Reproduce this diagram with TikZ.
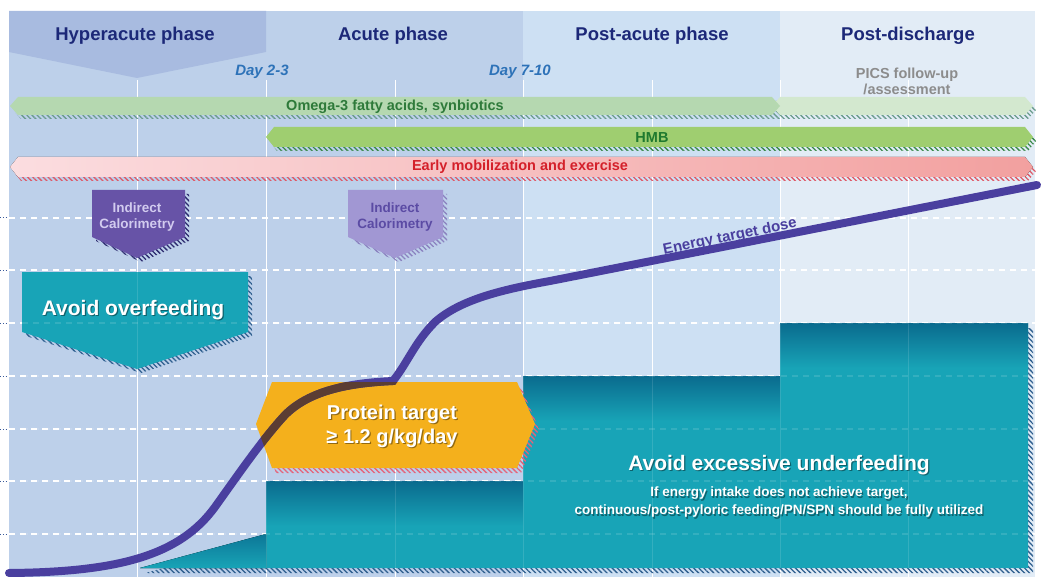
\documentclass[tikz,border=0pt]{standalone}
\usepackage{fontspec}
\setmainfont{Liberation Sans}
\usetikzlibrary{calc,patterns.meta}
\definecolor{panela}{HTML}{BDD0EA}
\definecolor{heada}{HTML}{A8BBE0}
\definecolor{panelb}{HTML}{CDE0F3}
\definecolor{panelc}{HTML}{E2ECF6}
\definecolor{headnavy}{HTML}{1C2878}
\definecolor{dayblue}{HTML}{2D72B8}
\definecolor{picsgray}{HTML}{8C8C8C}
\definecolor{tickblue}{HTML}{3A5A9A}
\definecolor{omegafill}{HTML}{B5D8B0}
\definecolor{omegapale}{HTML}{D3E8CF}
\definecolor{omegatext}{HTML}{2E7A3A}
\definecolor{omegashade}{HTML}{6A9C8C}
\definecolor{hmbfill}{HTML}{9FCE70}
\definecolor{hmbtext}{HTML}{1F7A2F}
\definecolor{hmbshade}{HTML}{3B8A4A}
\definecolor{mobleft}{HTML}{FBDDE0}
\definecolor{mobright}{HTML}{F2A09F}
\definecolor{mobtext}{HTML}{D4202A}
\definecolor{mobshade}{HTML}{DF5A68}
\definecolor{calodark}{HTML}{6753A7}
\definecolor{calotext}{HTML}{D2CBEF}
\definecolor{calolight}{HTML}{A197D3}
\definecolor{calolighttext}{HTML}{5B4BA4}
\definecolor{caloshade}{HTML}{2C2A6E}
\definecolor{teal}{HTML}{18A4B7}
\definecolor{tealdark}{HTML}{0A6B8E}
\definecolor{tealshade}{HTML}{2F5F8F}
\definecolor{protein}{HTML}{F4B01C}
\definecolor{proteinshade}{HTML}{E5637A}
\definecolor{energy}{HTML}{4A3F9F}
\definecolor{energybrown}{HTML}{5B3D33}

\newcommand{\bandpath}[4]{({#1},{(#3+#4)/2}) -- ({#1+8},#3) -- ({#2-8},#3) -- ({#2},{(#3+#4)/2}) -- ({#2-8},#4) -- ({#1+8},#4) -- cycle}
\newcommand{\glowlabel}[4]{%
  \node[#3,text=black,opacity=.4] at ($(#2)+(1.2,1.6)$) {#4};
  \node[#3,text=white] (#1) at (#2) {#4};}

\tikzset{
  hatch/.style={pattern={Lines[angle=-45,distance=3.6pt,line width=1.3pt]},pattern color=#1},
  phase/.style={font=\fontsize{18.5}{20}\selectfont\bfseries,text=headnavy},
  daymark/.style={font=\fontsize{15}{16}\selectfont\bfseries\itshape,text=dayblue},
  bandtext/.style={font=\fontsize{14.5}{16}\selectfont\bfseries},
  calotxt/.style={font=\fontsize{13.5}{16}\selectfont\bfseries,align=center},
  gridline/.style={white,line width=1pt},
  griddash/.style={white,line width=1.2pt,dash pattern=on 6pt off 5pt},
  bigwhite/.style={font=\fontsize{21}{24}\selectfont\bfseries,align=center},
  energyline/.style={line width=8pt,line cap=round}
}

\begin{document}
\begin{tikzpicture}[x=1pt,y=-1pt]
  \useasboundingbox (0,0) rectangle (1043,577);
  \fill[white] (0,0) rectangle (1043,577);
  % columns
  \fill[panela] (9,11) rectangle (523,577);
  \fill[panelb] (523,11) rectangle (780,577);
  \fill[panelc] (780,11) rectangle (1035,577);
  \fill[heada] (9,11) -- (266,11) -- (266,52) -- (137,78) -- (9,52) -- cycle;
  \foreach \x in {137,266,395,523,652,780,908}
    \draw[gridline] (\x,80) -- (\x,577);
  \foreach \y in {218,270,323,376,429,481,534} {
    \draw[griddash] (9,\y) -- (1035,\y);
    \draw[tickblue,line width=1pt,dash pattern=on 1.2pt off 1.6pt] (0,\y) -- (8,\y);
  }
  \node[phase] (hyper) at (135,35.5) {Hyperacute phase};
  \node[phase] (acute) at (393,35.5) {Acute phase};
  \node[phase] (postacute) at (652,35.5) {Post-acute phase};
  \node[phase] (postdis) at (908,35.5) {Post-discharge};
  \node[daymark] (day23) at (262,71.5) {Day 2-3};
  \node[daymark] (day710) at (520,71.5) {Day 7-10};
  \node[font=\fontsize{14.5}{16}\selectfont\bfseries,text=picsgray,align=center] (pics) at (907,81) {PICS follow-up\\/assessment};

  % bands
  \fill[hatch=omegashade,shift={(3,4)}] \bandpath{10}{1033}{97}{115};
  \fill[omegapale] \bandpath{772}{1033}{97}{115};
  \fill[omegafill] \bandpath{10}{780}{97}{115};
  \node[bandtext,text=omegatext] (omega) at (395,106.5) {Omega-3 fatty acids, synbiotics};
  \fill[hatch=hmbshade,shift={(3,4)}] \bandpath{266}{1033}{127}{147};
  \fill[hmbfill] \bandpath{266}{1033}{127}{147};
  \node[bandtext,text=hmbtext] (hmb) at (652,138) {HMB};
  \fill[hatch=mobshade,shift={(3,4)}] \bandpath{10}{1033}{157}{177};
  \fill[left color=mobleft,right color=mobright] \bandpath{10}{1033}{157}{177};
  \node[bandtext,text=mobtext] (mob) at (520,166.5) {Early mobilization and exercise};

  % indirect calorimetry
  \fill[hatch=caloshade,shift={(4,4)}] (92,190) -- (185,190) -- (185,237) -- (137,258) -- (92,237) -- cycle;
  \fill[calodark] (92,190) -- (185,190) -- (185,237) -- (137,258) -- (92,237) -- cycle;
  \node[calotxt,text=calotext] (calo1) at (137,217) {Indirect\\Calorimetry};
  \fill[hatch=calolight!80!caloshade,shift={(4,4)}] (348,190) -- (443,190) -- (443,237) -- (395,258) -- (348,237) -- cycle;
  \fill[calolight] (348,190) -- (443,190) -- (443,237) -- (395,258) -- (348,237) -- cycle;
  \node[calotxt,text=calolighttext] (calo2) at (395,217) {Indirect\\Calorimetry};

  % overfeeding
  \fill[hatch=tealshade,shift={(4,4)}] (22,272) -- (248,272) -- (248,332) -- (137,369) -- (22,332) -- cycle;
  \fill[teal] (22,272) -- (248,272) -- (248,332) -- (137,369) -- (22,332) -- cycle;

  % underfeeding steps
  \fill[hatch=tealshade,shift={(5,5)}] (140,568) -- (266,534) -- (266,481) -- (523,481) -- (523,376) -- (780,376) -- (780,323) -- (1028,323) -- (1028,568) -- cycle;
  \fill[teal] (140,568) -- (266,534) -- (266,481) -- (523,481) -- (523,376) -- (780,376) -- (780,323) -- (1028,323) -- (1028,568) -- cycle;
  \fill[top color=tealdark!80!teal,bottom color=teal] (140,568) -- (266,534) -- (266,568) -- cycle;
  \fill[top color=tealdark,bottom color=teal] (266,481) rectangle (523,526);
  \fill[top color=tealdark,bottom color=teal] (523,376) rectangle (780,421);
  \fill[top color=tealdark,bottom color=teal] (780,323) rectangle (1028,368);
  \begin{scope}[opacity=.12]
    \foreach \x in {137,266,395,523,652,780,908}
      \draw[gridline] (\x,270) -- (\x,568);
    \foreach \y in {323,376,429,481,534}
      \draw[griddash] (22,\y) -- (1028,\y);
  \end{scope}

  % energy curve and protein target
  \fill[hatch=proteinshade,shift={(4,5)}] (256,424) -- (272,382) -- (517,382) -- (535,424) -- (517,468) -- (272,468) -- cycle;
  \fill[protein] (256,424) -- (272,382) -- (517,382) -- (535,424) -- (517,468) -- (272,468) -- cycle;
  \draw[energyline,energy] (9,573) .. controls (120,572) and (180,555) .. (215,507)
    .. controls (240,472) and (262,440) .. (285,415)
    .. controls (310,390) and (350,383) .. (393,381)
    .. controls (408,362) and (415,342) .. (435,322)
    .. controls (460,300) and (500,290) .. (550,281) -- (1037,185);
  \begin{scope}
    \clip (256,424) -- (272,382) -- (517,382) -- (535,424) -- (517,468) -- (272,468) -- cycle;
    \draw[energyline,energybrown] (9,573) .. controls (120,572) and (180,555) .. (215,507)
      .. controls (240,472) and (262,440) .. (285,415)
      .. controls (310,390) and (350,383) .. (393,381)
      .. controls (408,362) and (415,342) .. (435,322);
  \end{scope}
  \node[font=\fontsize{15}{16}\selectfont\bfseries,text=energy,rotate=11.5] (energylbl) at (730,237) {Energy target dose};

  % white labels
  \glowlabel{overfeed}{133,310}{bigwhite}{Avoid overfeeding}
  \glowlabel{proteinlbl}{392,426}{bigwhite,font=\fontsize{20}{24}\selectfont\bfseries}{Protein target\\≥ 1.2 g/kg/day}
  \glowlabel{underfeed}{779,465}{bigwhite}{Avoid excessive underfeeding}
  \glowlabel{underfeednote}{779,502}{font=\fontsize{13.5}{18}\selectfont\bfseries,align=center}{If energy intake does not achieve target,\\continuous/post-pyloric feeding/PN/SPN should be fully utilized}
\end{tikzpicture}
\end{document}
